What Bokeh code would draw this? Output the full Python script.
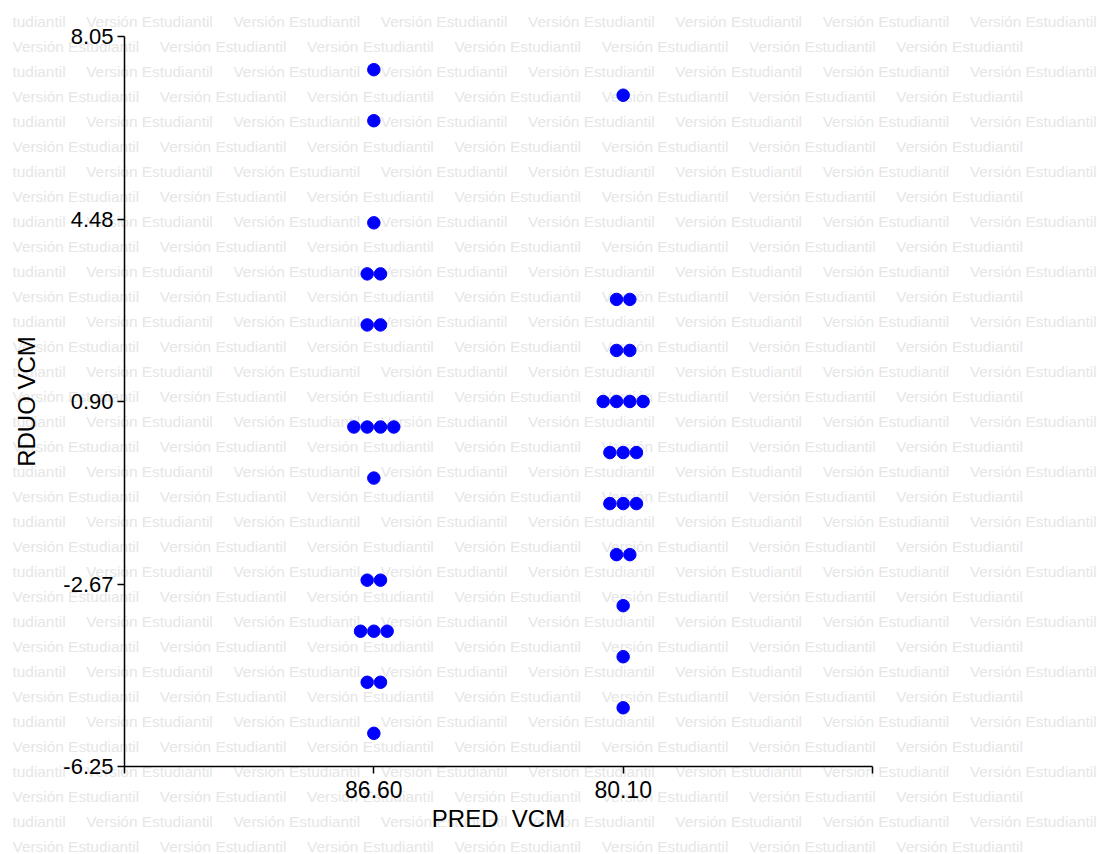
from bokeh.plotting import figure
from bokeh.models import ColumnDataSource, FixedTicker, Label, LinearAxis, Range1d
from bokeh.embed import file_html
from bokeh.resources import INLINE
import numpy as np

# ---------------- data ----------------
pred_labels = ["86.60", "80.10"]
res_8660 = [7.4, 6.4, 4.4, 3.4, 3.4, 2.4, 2.4, 0.4, 0.4, 0.4, 0.4, -0.6,
            -2.6, -2.6, -3.6, -3.6, -3.6, -4.6, -4.6, -5.6]
res_8010 = [6.9, 2.9, 2.9, 1.9, 1.9, 0.9, 0.9, 0.9, 0.9, -0.1, -0.1, -0.1,
            -1.1, -1.1, -1.1, -2.1, -2.1, -3.1, -4.1, -5.1]
y_tick_labels = ["-6.25", "-2.67", "0.90", "4.48", "8.05"]
y_min, y_max = -6.25, 8.05
x_min, x_max = 0, 3
x_title = "PRED \u00a0VCM"
y_title = "RDUO VCM"
watermark = "Versión Estudiantil"
watermark_tail = "tudiantil"

# ---------------- layout (pixels) ----------------
W, H = 1103, 854
LEFT, RIGHT, TOP, BOTTOM = 124, 231, 36, 88     # axes box inside the canvas
AW = W - LEFT - RIGHT
AH = H - TOP - BOTTOM
ux = (x_max - x_min) / AW
uy = (y_max - y_min) / AH

# ------------- dot-plot stacking (side by side for equal values) -------------
dx = 13.3 * ux
xs, ys = [], []
for ci, res in enumerate([res_8660, res_8010]):
    vals, counts = np.unique(np.round(res, 2), return_counts=True)
    for v, n in zip(vals, counts):
        for i in range(n):
            xs.append(ci + 1 + (i - (n - 1) / 2.0) * dx)
            ys.append(v)
src = ColumnDataSource(dict(x=xs, y=ys))

p = figure(width=W, height=H,
           x_range=Range1d(x_min - LEFT * ux, x_max + RIGHT * ux),
           y_range=Range1d(y_min - BOTTOM * uy, y_max + TOP * uy),
           x_axis_location=None, y_axis_location=None,
           output_backend="svg", toolbar_location=None, min_border=0)
p.background_fill_color = "white"
p.border_fill_color = "white"
p.outline_line_color = None
p.grid.visible = False

# ------------- watermark (screen units from canvas bottom-left) -------------
period = 147.3
wm_style = dict(x_units="screen", y_units="screen", text_font="Liberation Sans",
                text_font_size="15.4px", text_color="#e6e6e6",
                text_baseline="alphabetic", text_align="left", level="image")
for k in range(34):
    base = 21.3 + 25 * k
    sy = H - base
    if k % 2 == 0:
        p.add_layout(Label(x=12, y=sy, text=watermark_tail, **wm_style))
        xpos = 12 + period / 2.0
    else:
        xpos = 12
    while xpos < W - 120:
        p.add_layout(Label(x=xpos, y=sy, text=watermark, **wm_style))
        xpos += period

# ------------- points -------------
p.scatter("x", "y", source=src, size=12.5, fill_color="#0000ff", line_color="#0000ff")

# ------------- axes -------------
yt = list(np.linspace(y_min, y_max, 5))
xaxis = LinearAxis(fixed_location=y_min, bounds=(x_min, x_max),
                   ticker=FixedTicker(ticks=[0, 1, 2, 3]),
                   major_label_overrides={0: "", 1: pred_labels[0], 2: pred_labels[1], 3: ""},
                   axis_label=x_title)
yaxis = LinearAxis(fixed_location=x_min, bounds=(y_min, y_max),
                   ticker=FixedTicker(ticks=yt),
                   major_label_overrides={t: l for t, l in zip(yt, y_tick_labels)},
                   axis_label=y_title)
for ax in (xaxis, yaxis):
    ax.axis_line_color = "black"
    ax.axis_line_width = 1.5
    ax.major_tick_line_color = "black"
    ax.major_tick_line_width = 1.5
    ax.major_tick_out = 7
    ax.major_tick_in = 0
    ax.minor_tick_line_color = None
    ax.major_label_text_font = "Liberation Sans"
    ax.major_label_text_font_size = "22px"
    ax.major_label_text_color = "black"
    ax.axis_label_text_font = "Liberation Sans"
    ax.axis_label_text_font_size = "24px"
    ax.axis_label_text_font_style = "normal"
    ax.axis_label_text_color = "black"
    for prop in ("major_label_background_fill_color", "axis_label_background_fill_color"):
        try:
            setattr(ax, prop, "white")
        except Exception:
            pass
xaxis.major_label_text_font_size = "23px"
xaxis.major_label_standoff = 7
xaxis.axis_label_standoff = 4
yaxis.major_label_standoff = 4
yaxis.axis_label_standoff = 20
yaxis.major_label_orientation = "horizontal"
p.add_layout(xaxis, "below")
p.add_layout(yaxis, "left")

open("out.html", "w").write(file_html(p, INLINE))
